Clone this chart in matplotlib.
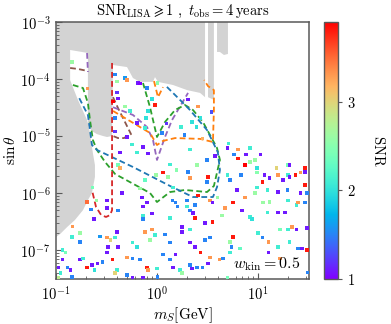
import numpy as np
import matplotlib
matplotlib.use('Agg')
import matplotlib.pyplot as plt
from matplotlib.ticker import LogLocator, FuncFormatter, NullFormatter

plt.rcParams['mathtext.fontset'] = 'cm'
plt.rcParams['font.family'] = 'serif'
plt.rcParams['font.serif'] = ['DejaVu Serif']

# ---------------- excluded (gray) region boundaries ----------------
gray_main_m = [0.1, 0.1, 0.11, 0.129, 0.154, 0.185, 0.207, 0.227, 0.243, 0.243, 0.232,
               0.217, 0.203, 0.165, 0.147, 0.138, 0.138, 0.207, 0.207, 0.227, 0.254,
               0.292, 0.32, 0.359, 0.367, 0.505, 0.578, 0.679, 0.913, 0.955, 1.023,
               1.44, 1.98, 2.67, 2.99, 2.99]
gray_main_s = [1e-3, 1.69e-7, 1.91e-7, 2.53e-7, 3.36e-7, 5.0e-7, 7.5e-7, 1.0e-6, 1.91e-6,
               3.1e-6, 5.0e-6, 1.13e-5, 1.91e-5, 4.3e-5, 7.2e-5, 9.6e-5, 3.23e-4, 2.86e-4,
               1.56e-5, 1.22e-5, 1.08e-5, 1.0e-5, 9.6e-6, 1.0e-5, 1.76e-4, 1.62e-4,
               1.04e-4, 8.9e-5, 8.9e-5, 1.08e-4, 8.9e-5, 7.85e-5, 6.4e-5, 5.7e-5,
               4.8e-5, 1e-3]
gray_strip1_m = [3.2, 3.66, 3.66, 3.2]
gray_strip1_s = [1e-3, 1e-3, 4.3e-5, 4.8e-5]
gray_strip2_m = [3.93, 5.04, 5.04, 4.6, 4.2, 3.93]
gray_strip2_s = [1e-3, 1e-3, 2.75e-4, 2.64e-4, 2.98e-4, 2.98e-4]

# ---------------- dashed contours ----------------
brown_a_m = [0.138, 0.165, 0.207]
brown_a_s = [1.56e-4, 1.5e-4, 1.38e-4]
brown_b_m = [0.367, 0.411, 0.471, 0.516, 0.553, 0.471, 0.411, 0.367]
brown_b_s = [4.8e-5, 3.1e-5, 1.91e-5, 1.38e-5, 1.08e-5, 9.2e-6, 9.2e-6, 1.0e-5]

purple_a_m = [0.203, 0.207]
purple_a_s = [2.86e-4, 1.33e-4]
purple_b_m = [0.367, 0.578, 0.796, 0.913, 1.0, 1.2, 1.41, 2.03]
purple_b_s = [3.2e-5, 2.34e-5, 1.44e-5, 8.5e-6, 3.8e-6, 9.6e-6, 1.91e-5, 5.7e-5]

green_m = [0.147, 0.185, 0.207, 0.217, 0.232, 0.254, 0.306, 0.384, 0.853, 1.0, 1.345,
           1.89, 3.13, 3.66, 4.2, 3.93, 3.35, 2.85, 2.27, 1.89, 1.51, 1.2, 1.0,
           0.853, 0.727]
green_s = [7.85e-5, 6.95e-5, 3.8e-5, 1.91e-5, 8.5e-6, 5.7e-6, 3.5e-6, 2.16e-6, 1.0e-6,
           6.95e-7, 1.04e-6, 1.13e-6, 1.04e-6, 1.33e-6, 3.8e-6, 6.15e-6, 1.04e-5,
           1.76e-5, 2.86e-5, 3.5e-5, 2.86e-5, 1.76e-5, 9.6e-6, 3.2e-5, 8.5e-5]

blue_m = [0.17, 0.207, 0.217, 0.227, 0.254, 0.578, 1.345, 2.27, 3.58, 3.93, 4.2, 4.0,
          3.13, 2.12, 1.69, 1.2]
blue_s = [4.6e-5, 2.34e-5, 1.27e-5, 6.95e-6, 5.7e-6, 2.86e-6, 1.33e-6, 8.5e-7, 8.5e-7,
          1.27e-6, 2.53e-6, 5.2e-6, 1.27e-5, 2.86e-5, 4.3e-5, 7.85e-5]

orange_a_m = [0.367, 0.54, 0.853, 1.0, 1.147, 1.51, 2.67, 3.58, 3.66, 3.66, 3.2, 2.93]
orange_a_s = [2.75e-5, 1.83e-5, 1.13e-5, 6.95e-6, 8.2e-6, 9.2e-6, 8.9e-6, 7.85e-6,
              2.86e-5, 6.4e-5, 7.5e-5, 9.6e-5]
orange_b_m = [0.934, 1.023, 1.147]
orange_b_s = [9.2e-5, 4.8e-5, 7.2e-5]

red_m = [0.359, 0.359, 0.343, 0.313, 0.28, 0.249, 0.227]
red_s = [1.91e-4, 5.0e-7, 4.1e-7, 3.8e-7, 4.1e-7, 5.7e-7, 1.13e-6]

# ---------------- scan points ----------------
scan_m = [0.144, 0.207, 0.384, 0.402, 0.482, 0.505, 0.649, 0.679, 0.796, 1.02,
          0.402, 0.411, 0.367, 0.482, 0.384, 0.384, 0.892, 0.955, 0.54, 0.814,
          0.778, 0.76, 0.634, 0.505, 0.43, 0.411, 0.43, 0.634, 0.566, 0.727,
          0.814, 1.23, 1.12, 2.03, 1.73, 2.22, 2.44, 1.89, 2.55, 3.5,
          2.67, 1.345, 1.55, 1.147, 0.977, 1.285, 2.03, 2.12, 0.76, 2.12,
          3.13, 2.8, 3.75, 5.15, 5.04, 6.34, 7.6, 8.33, 10.5, 5.79,
          6.34, 7.43, 8.33, 9.34, 3.2, 2.49, 6.79, 9.77, 9.77, 11.7,
          13.1, 15.4, 15.8, 19.4, 20.7, 19.8, 20.7, 23.7, 26.1, 29.2,
          29.2, 11.0, 29.2, 6.2, 9.34, 12.3, 15.8, 26.1, 30.6, 5.66,
          6.95, 4.71, 4.4, 8.33, 8.72, 11.2, 13.1, 15.8, 18.5, 24.3,
          29.2, 12.3, 2.99, 2.38, 3.58, 21.7, 30.6, 16.5, 19.8, 24.3,
          10.0, 11.0, 5.66, 5.28, 5.52, 6.64, 3.35, 2.99, 2.38, 2.67,
          3.35, 4.2, 4.5, 5.28, 12.6, 12.6, 15.8, 20.7, 24.9, 27.3,
          30.6, 16.5, 2.49, 2.8, 3.2, 5.04, 31.3, 1.44, 1.98, 2.55,
          3.35, 3.58, 2.38, 1.58, 3.13, 5.04, 5.28, 17.7, 9.77, 19.4,
          4.0, 7.43, 19.8, 24.9, 0.679, 0.232, 0.254, 0.203, 0.32, 0.45,
          0.32, 0.411, 0.222, 0.238, 0.71, 0.796, 0.727, 1.41, 1.51, 1.98,
          2.12, 2.27, 0.727, 0.727, 0.892, 1.345, 1.77, 0.147, 0.144, 0.173,
          0.173, 0.117, 0.273, 0.402, 0.32, 0.343, 0.384, 0.411, 0.578, 0.634,
          0.76, 0.853, 0.955, 0.892, 1.2, 1.345, 1.77, 2.12, 2.12, 0.327,
          0.32, 0.173, 0.185, 0.117, 0.123, 0.129, 0.138, 0.105, 0.11, 0.144,
          0.203, 0.227, 0.26, 0.243, 0.286, 0.359, 0.402, 0.384, 0.505, 0.505,
          0.578, 0.679, 0.796, 0.814, 1.0, 0.578, 0.727, 1.02, 1.147, 1.345,
          1.51, 1.44, 1.69, 1.77, 2.12, 2.22, 0.105]
scan_sin = [1.99e-4, 6.7e-5, 1.22e-4, 8.9e-5, 1.04e-4, 9.6e-5, 8.5e-5, 8.2e-5, 6.95e-5, 8.5e-5,
            5.9e-5, 4.6e-5, 4.1e-5, 3.35e-5, 2.07e-5, 1.22e-5, 4.45e-5, 3.5e-5, 2.75e-5, 2.75e-5,
            2.07e-5, 1.38e-5, 1.69e-5, 9.6e-6, 5.2e-6, 3.1e-6, 2.75e-6, 5.2e-6, 7.2e-6, 6.4e-6,
            5.0e-6, 1.63e-5, 1.13e-5, 4.3e-5, 1.44e-5, 1.76e-5, 1.44e-5, 1.04e-5, 3.35e-5, 2.64e-5,
            2.07e-5, 3.2e-6, 2.53e-6, 2.25e-6, 2.07e-6, 1.91e-6, 2.34e-6, 1.83e-6, 1.69e-6, 5.7e-6,
            3.8e-6, 9.2e-6, 4.45e-6, 7.5e-6, 6.15e-6, 5.7e-6, 4.8e-6, 6.15e-6, 4.8e-6, 4.8e-6,
            4.1e-6, 3.1e-6, 3.5e-6, 3.8e-6, 1.91e-6, 3.1e-6, 2.07e-6, 2.75e-6, 2.25e-6, 2.07e-6,
            1.83e-6, 2.75e-6, 2.07e-6, 3.1e-6, 3.1e-6, 2.07e-6, 1.91e-6, 2.07e-6, 2.25e-6, 2.75e-6,
            2.34e-6, 1.56e-6, 1.38e-6, 1.13e-6, 1.0e-6, 1.13e-6, 1.04e-6, 1.0e-6, 1.0e-6, 6.7e-7,
            5.0e-7, 5.45e-7, 4.1e-7, 3.8e-7, 3.5e-7, 6.7e-7, 6.95e-7, 4.6e-7, 4.6e-7, 6.15e-7,
            6.7e-7, 4.6e-7, 2.98e-7, 3.64e-7, 3.1e-7, 2.53e-7, 2.43e-7, 2.25e-7, 2.25e-7, 2.25e-7,
            1.99e-7, 1.63e-7, 1.69e-7, 1.38e-7, 1.13e-7, 1.08e-7, 1.63e-7, 1.5e-7, 1.13e-7, 9.2e-8,
            7.5e-8, 6.7e-8, 7.2e-8, 9.2e-8, 1.38e-7, 9.2e-8, 1.13e-7, 1.38e-7, 1.08e-7, 1.08e-7,
            1.0e-7, 7.2e-8, 5.0e-8, 5.0e-8, 5.9e-8, 3.23e-8, 4.1e-8, 1.27e-6, 7.5e-7, 9.2e-7,
            7.5e-7, 6.7e-7, 6.15e-7, 5.7e-7, 1.56e-6, 2.07e-6, 1.69e-6, 1.69e-6, 1.27e-6, 1.13e-6,
            8.2e-7, 8.2e-7, 7.5e-7, 6.7e-7, 1.22e-6, 1.27e-6, 7.5e-7, 6.95e-7, 7.5e-7, 1.0e-6,
            5.45e-7, 5.0e-7, 5.2e-7, 3.5e-7, 8.2e-7, 6.7e-7, 5.7e-7, 7.5e-7, 6.7e-7, 5.7e-7,
            5.0e-7, 4.45e-7, 4.1e-7, 3.5e-7, 4.3e-7, 3.64e-7, 2.53e-7, 2.6e-7, 1.69e-7, 1.99e-7,
            1.38e-7, 1.0e-7, 1.75e-7, 2.07e-7, 1.63e-7, 1.5e-7, 1.63e-7, 1.13e-7, 1.33e-7, 1.13e-7,
            2.07e-7, 1.5e-7, 1.83e-7, 2.25e-7, 1.9e-7, 1.33e-7, 2.07e-7, 2.25e-7, 1.33e-7, 1.13e-7,
            8.9e-8, 6.7e-8, 7.2e-8, 6.7e-8, 9.2e-8, 5.0e-8, 4.45e-8, 5.0e-8, 3.95e-8, 3.36e-8,
            5.0e-8, 5.45e-8, 5.9e-8, 4.45e-8, 6.15e-8, 6.7e-8, 4.45e-8, 3.95e-8, 3.64e-8, 7.5e-8,
            7.2e-8, 6.7e-8, 5.0e-8, 4.45e-8, 4.8e-8, 3.23e-8, 3.23e-8, 3.36e-8, 8.2e-8, 6.7e-8,
            8.2e-8, 5.0e-8, 4.45e-8, 3.95e-8, 5.45e-8, 4.8e-8, 3.23e-8]
scan_snr = [2.6, 3.3, 1.5, 2.6, 1.6, 3.3, 1.1, 1.0, 1.5, 2.5,
            1.2, 1.1, 3.9, 2.6, 1.5, 1.2, 2.0, 3.8, 2.1, 2.0,
            2.0, 2.1, 1.1, 1.1, 1.1, 2.4, 3.2, 2.1, 2.1, 1.1,
            1.1, 1.2, 1.5, 1.1, 2.1, 2.0, 2.0, 1.5, 3.3, 1.3,
            2.0, 2.1, 2.5, 3.8, 2.6, 2.6, 1.5, 3.3, 2.3, 2.1,
            1.5, 3.2, 1.1, 2.1, 1.1, 3.3, 1.1, 2.1, 1.1, 1.5,
            3.8, 3.9, 2.6, 2.6, 3.8, 2.6, 1.5, 2.0, 2.5, 1.1,
            1.1, 3.0, 3.3, 2.4, 1.1, 2.1, 1.1, 3.8, 3.3, 3.8,
            1.1, 3.8, 3.8, 1.1, 2.6, 2.1, 1.1, 1.1, 1.5, 3.8,
            1.1, 3.3, 2.6, 2.1, 2.0, 2.6, 2.6, 1.1, 1.1, 2.1,
            1.5, 2.1, 1.1, 3.8, 3.8, 3.3, 1.1, 2.4, 2.1, 1.1,
            2.1, 1.5, 3.8, 2.6, 1.5, 2.3, 1.5, 1.5, 1.1, 3.8,
            3.3, 3.3, 1.5, 2.1, 3.3, 1.1, 2.1, 2.1, 1.5, 1.1,
            3.8, 3.3, 1.5, 1.5, 1.1, 2.4, 1.5, 2.1, 1.5, 3.8,
            3.3, 1.1, 1.5, 1.5, 1.5, 2.1, 1.5, 1.1, 2.1, 1.5,
            2.6, 3.3, 2.1, 3.3, 2.6, 2.4, 2.6, 3.5, 1.1, 1.1,
            1.1, 1.5, 1.5, 1.1, 1.1, 1.1, 1.1, 1.5, 1.5, 2.1,
            1.5, 1.1, 2.1, 1.5, 1.1, 2.1, 1.1, 3.3, 2.1, 2.6,
            1.5, 2.1, 1.6, 1.1, 3.3, 3.0, 2.1, 1.1, 2.1, 2.0,
            3.3, 2.6, 2.1, 3.3, 1.5, 1.5, 1.1, 2.1, 1.1, 1.1,
            1.1, 1.1, 2.1, 1.1, 2.4, 1.5, 1.1, 1.1, 2.1, 1.5,
            3.8, 1.1, 1.1, 2.0, 1.5, 3.8, 2.1, 3.0, 1.5, 3.3,
            1.5, 1.5, 3.8, 3.3, 2.1, 1.1, 1.1, 1.5, 1.5, 1.5,
            1.1, 1.1, 2.1, 2.6, 1.5, 1.1, 2.8]

title = r'$\mathrm{SNR}_{\mathrm{LISA}} \geqslant 1\ ,\ t_{\mathrm{obs}} = 4\,\mathrm{years}$'
xlabel = r'$m_S[\mathrm{GeV}]$'
ylabel = r'$\sin\theta$'
cbar_label = r'$\mathrm{SNR}$'
note = r'$w_{\mathrm{kin}} = 0.5$'
cbar_ticks = [1, 2, 3]

fig = plt.figure(figsize=(3.91, 3.24), dpi=100)
ax = fig.add_axes([0.1432, 0.1389, 0.6471, 0.7932])
cax = fig.add_axes([0.8286, 0.1389, 0.0358, 0.7932])

ax.set_xscale('log')
ax.set_yscale('log')
ax.set_xlim(0.1, 32)
ax.set_ylim(3.1e-8, 1e-3)

gray = '#d3d3d3'
for gm, gs in [(gray_main_m, gray_main_s), (gray_strip1_m, gray_strip1_s),
               (gray_strip2_m, gray_strip2_s)]:
    ax.fill(gm, gs, color=gray, lw=0, zorder=1)

lw = 1.3
dash = (3.2, 1.8)
lines = [(brown_a_m, brown_a_s, '#8c564b'), (brown_b_m, brown_b_s, '#8c564b'),
         (purple_a_m, purple_a_s, '#9467bd'), (purple_b_m, purple_b_s, '#9467bd'),
         (green_m, green_s, '#2ca02c'), (blue_m, blue_s, '#1f77b4'),
         (orange_a_m, orange_a_s, '#ff7f0e'), (orange_b_m, orange_b_s, '#ff7f0e'),
         (red_m, red_s, '#d62728')]
for lm, ls, col in lines:
    ax.plot(lm, ls, color=col, lw=lw, ls=(0, dash), zorder=2)

sc = ax.scatter(scan_m, scan_sin, c=scan_snr, cmap='rainbow', marker='s', s=5,
                linewidths=0, zorder=3)

spine_col = '0.35'
for sp in ax.spines.values():
    sp.set_color(spine_col)
    sp.set_linewidth(1.1)

ax.xaxis.set_major_locator(LogLocator(base=10, numticks=10))
ax.yaxis.set_major_locator(LogLocator(base=10, numticks=10))
ax.xaxis.set_minor_locator(LogLocator(base=10, subs=np.arange(2, 10), numticks=20))
ax.yaxis.set_minor_locator(LogLocator(base=10, subs=np.arange(2, 10), numticks=20))
fmt = FuncFormatter(lambda v, p: r'$10^{%d}$' % int(round(np.log10(v))))
ax.xaxis.set_major_formatter(fmt)
ax.yaxis.set_major_formatter(fmt)
ax.xaxis.set_minor_formatter(NullFormatter())
ax.yaxis.set_minor_formatter(NullFormatter())
ax.tick_params(which='major', direction='in', length=4, width=0.8, color=spine_col,
               labelsize=10.5, pad=4)
ax.tick_params(which='minor', direction='in', length=2, width=0.6, color=spine_col)

ax.set_title(title, fontsize=10.5, pad=5)
ax.set_xlabel(xlabel, fontsize=11, labelpad=2)
ax.set_ylabel(ylabel, fontsize=11, labelpad=2)
ax.text(0.965, 0.025, note, transform=ax.transAxes, ha='right', va='bottom',
        fontsize=11.5, zorder=4)

cb = fig.colorbar(sc, cax=cax)
cb.set_ticks(cbar_ticks)
cb.set_ticklabels([r'$%d$' % t for t in cbar_ticks])
cb.ax.tick_params(labelsize=10.5, length=3, width=0.8, color=spine_col)
cb.outline.set_edgecolor(spine_col)
cb.outline.set_linewidth(1.0)
cb.set_label(cbar_label, rotation=270, fontsize=10.5, labelpad=22)

fig.savefig('out.png', dpi=100)
